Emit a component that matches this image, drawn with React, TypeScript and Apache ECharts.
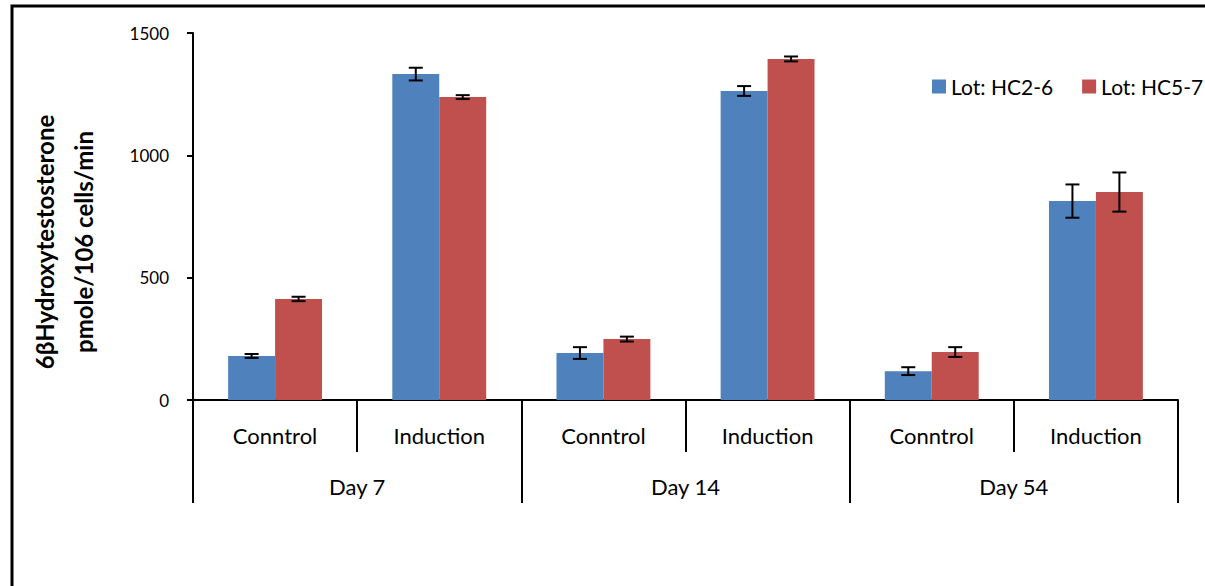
import React, { useEffect, useRef } from "react";
import * as echarts from "echarts";

const subCategories = ["Conntrol", "Induction", "Conntrol", "Induction", "Conntrol", "Induction"];
const dayLabels = ["Day 7", "Day 14", "Day 54"];
const seriesNames = ["Lot: HC2-6", "Lot: HC5-7"];
const hc26 = [180, 1332, 192, 1263, 118, 813];
const hc26Err = [8, 26, 24, 20, 16, 68];
const hc57 = [413, 1238, 249, 1394, 196, 850];
const hc57Err = [9, 8, 10, 10, 20, 80];
const yTicks = { min: 0, max: 1500, interval: 500 };
const yTitle = "6βHydroxytestosterone\npmole/106 cells/min";

const FONT = "Lato";
const BAR_FRAC = 0.286;

function errorSeries(name: string, values: number[], errs: number[], side: number) {
  return {
    type: "custom",
    name,
    xAxisIndex: 0,
    yAxisIndex: 0,
    silent: true,
    z: 5,
    encode: { x: 0, y: [1, 2] },
    data: values.map((v, i) => [i, v - errs[i], v + errs[i]]),
    renderItem: (params: any, api: any) => {
      const idx = api.value(0);
      const bw = api.size([1, 0])[0];
      const cx = api.coord([idx, 0])[0] + side * bw * BAR_FRAC * 0.5;
      const lo = api.coord([idx, api.value(1)])[1];
      const hi = api.coord([idx, api.value(2)])[1];
      const cap = 7;
      const style = { stroke: "#000", lineWidth: 2 };
      return {
        type: "group",
        children: [
          { type: "line", shape: { x1: cx, y1: lo, x2: cx, y2: hi }, style },
          { type: "line", shape: { x1: cx - cap, y1: lo, x2: cx + cap, y2: lo }, style },
          { type: "line", shape: { x1: cx - cap, y1: hi, x2: cx + cap, y2: hi }, style },
        ],
      };
    },
  };
}

export default function App() {
  const ref = useRef<HTMLDivElement>(null);
  useEffect(() => {
    if (!ref.current) return;
    const chart = echarts.init(ref.current, null, { renderer: "svg" });
    chart.setOption({
      animation: false,
      backgroundColor: "#fff",
      textStyle: { fontFamily: FONT, color: "#000" },
      grid: { left: 193, top: 33, right: 27, bottom: 186, containLabel: false },
      legend: {
        data: seriesNames,
        left: 932,
        top: 76,
        padding: 0,
        itemWidth: 14,
        itemHeight: 14,
        itemGap: 29,
        icon: "rect",
        textStyle: { fontFamily: FONT, fontSize: 21, color: "#000" },
      },
      xAxis: [
        {
          type: "category",
          data: subCategories,
          position: "bottom",
          axisLine: { show: true, lineStyle: { color: "#000", width: 2 } },
          axisTick: { show: true, length: 52, interval: 0, lineStyle: { color: "#000", width: 2 } },
          axisLabel: { interval: 0, margin: 24, fontSize: 22, fontFamily: FONT, color: "#000", lineHeight: 22 },
          splitLine: { show: false },
        },
        {
          type: "category",
          data: dayLabels,
          position: "bottom",
          offset: 0,
          axisLine: { show: false },
          axisTick: { show: true, length: 103, interval: 0, lineStyle: { color: "#000", width: 2 } },
          axisLabel: { interval: 0, margin: 75, fontSize: 22, fontFamily: FONT, color: "#000", lineHeight: 22 },
          splitLine: { show: false },
        },
      ],
      yAxis: {
        type: "value",
        min: yTicks.min,
        max: yTicks.max,
        interval: yTicks.interval,
        axisLine: { show: true, lineStyle: { color: "#000", width: 2 } },
        axisTick: { show: true, length: 6, lineStyle: { color: "#000", width: 2 } },
        axisLabel: {
          margin: 24,
          fontSize: 17,
          fontFamily: FONT,
          color: "#000",
          formatter: (v: number) => String(v),
        },
        splitLine: { show: false },
      },
      series: [
        {
          type: "bar",
          name: seriesNames[0],
          data: hc26,
          barWidth: BAR_FRAC * 100 + "%",
          barGap: "0%",
          itemStyle: { color: "#4F81BD" },
        },
        {
          type: "bar",
          name: seriesNames[1],
          data: hc57,
          barWidth: BAR_FRAC * 100 + "%",
          barGap: "0%",
          itemStyle: { color: "#C0504D" },
        },
        errorSeries("err1", hc26, hc26Err, -1),
        errorSeries("err2", hc57, hc57Err, 1),
      ],
      graphic: [
        {
          type: "polyline",
          shape: { points: [[12, 586], [12, 6], [1205, 6]] },
          style: { stroke: "#000", lineWidth: 3, fill: null },
          silent: true,
        },
        {
          type: "text",
          x: 64,
          y: 242,
          rotation: Math.PI / 2,
          silent: true,
          style: {
            text: yTitle,
            fontFamily: FONT,
            fontSize: 24,
            fontWeight: "bold",
            fill: "#000",
            lineHeight: 39,
            align: "center",
            verticalAlign: "middle",
          },
        },
      ],
    });
    return () => chart.dispose();
  }, []);
  return (
    <div
      ref={ref}
      style={{ position: "absolute", left: 0, top: 0, width: 1205, height: 586, background: "#fff" }}
    />
  );
}
